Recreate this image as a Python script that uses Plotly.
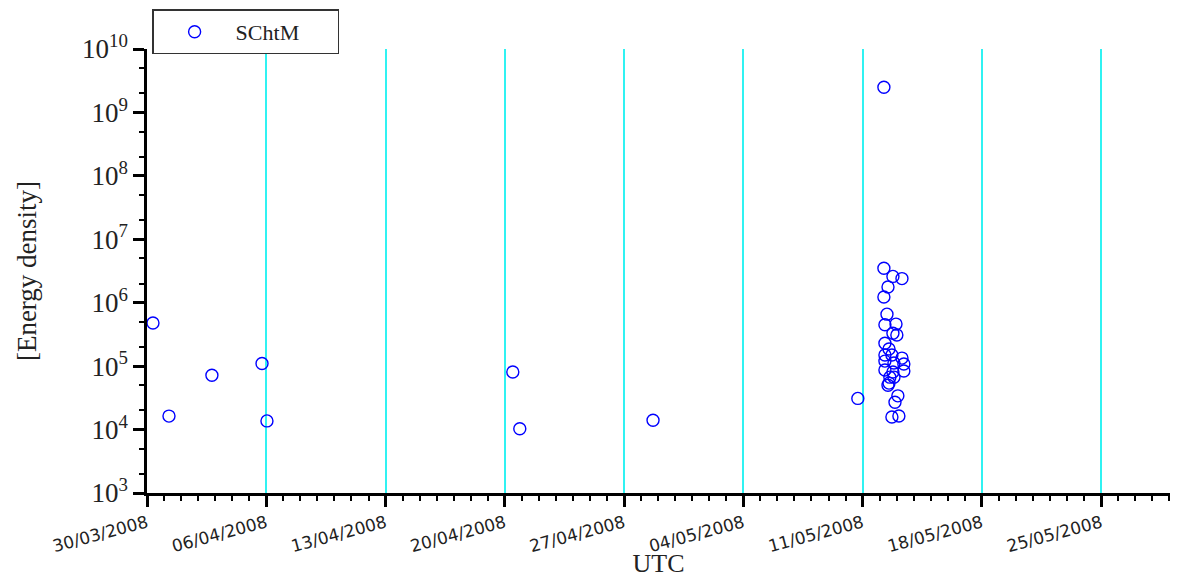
import plotly.graph_objects as go

times = [
    "2008-03-30 08:24", "2008-03-31 06:58", "2008-04-02 19:26", "2008-04-05 18:00",
    "2008-04-06 00:58", "2008-04-20 11:16", "2008-04-20 21:07", "2008-04-28 16:48",
    "2008-05-10 17:17", "2008-05-12 06:00",
    "2008-05-12 06:00", "2008-05-12 18:43", "2008-05-13 07:26", "2008-05-12 11:46",
    "2008-05-12 06:00", "2008-05-12 10:19", "2008-05-12 07:26", "2008-05-12 23:02",
    "2008-05-12 18:43", "2008-05-13 00:14", "2008-05-12 07:26", "2008-05-12 13:12",
    "2008-05-12 07:26", "2008-05-12 17:17", "2008-05-13 07:26", "2008-05-12 07:26",
    "2008-05-12 20:10", "2008-05-13 10:05", "2008-05-12 07:26", "2008-05-12 18:43",
    "2008-05-13 10:05", "2008-05-12 14:24", "2008-05-12 20:10", "2008-05-12 13:12",
    "2008-05-12 11:46", "2008-05-13 01:41", "2008-05-12 21:36", "2008-05-12 17:17",
    "2008-05-13 03:07",
]
energy = [
    4.8e5, 1.63e4, 7.2e4, 1.1e5,
    1.37e4, 8.1e4, 1.03e4, 1.4e4,
    3.1e4, 2.5e9,
    3.5e6, 2.6e6, 2.4e6, 1.77e6,
    1.23e6, 6.6e5, 4.5e5, 4.6e5,
    3.3e5, 3.1e5, 2.3e5, 1.86e5,
    1.5e5, 1.5e5, 1.34e5, 1.2e5,
    1.12e5, 1.08e5, 8.7e4, 8.1e4,
    8.4e4, 6.7e4, 6.7e4, 5.4e4,
    5.0e4, 3.4e4, 2.7e4, 1.58e4,
    1.64e4,
]
series_name = "SChtM"
y_exponents = [3, 4, 5, 6, 7, 8, 9, 10]
x_range = ["2008-03-30", "2008-05-29 01:00"]

serif = "Liberation Serif, Times New Roman, serif"
sans = "DejaVu Sans, Tahoma, sans-serif"

fig = go.Figure()
fig.add_trace(go.Scatter(
    x=times, y=energy, mode="markers", name=series_name,
    marker=dict(symbol="circle-open", size=12, color="#0000FF",
                line=dict(width=1.4, color="#0000FF")),
))

fig.update_layout(
    width=1180, height=578,
    margin=dict(l=147, r=10, t=49, b=85),
    paper_bgcolor="white", plot_bgcolor="white",
    showlegend=True,
    legend=dict(
        x=0.005, y=1.089, xanchor="left", yanchor="top",
        orientation="h", entrywidth=97,
        bordercolor="#333333", borderwidth=1.5, bgcolor="white",
        font=dict(family=serif, size=22, color="#222222"),
        itemwidth=72, tracegroupgap=0,
    ),
    xaxis=dict(
        type="date", range=x_range, automargin=False,
        tick0="2008-03-30", dtick=7 * 86400000,
        tickformat="%d/%m/%Y", tickangle=-15,
        tickfont=dict(family=sans, size=17, color="#222222"),
        ticks="outside", ticklen=11, tickwidth=2.5, tickcolor="black",
        minor=dict(dtick=86400000, ticks="outside", ticklen=5,
                   tickwidth=2, tickcolor="black", showgrid=False),
        showgrid=True, gridcolor="#30F2F2", gridwidth=2,
        showline=True, linecolor="black", linewidth=2.5,
        zeroline=False,
        title=dict(text="UTC", font=dict(family=serif, size=26, color="#222222"), standoff=5),
    ),
    yaxis=dict(
        type="log", range=[3, 10], automargin=False,
        tickvals=[10 ** e for e in y_exponents],
        ticktext=["10<sup>%d</sup>" % e for e in y_exponents],
        tickfont=dict(family=serif, size=27, color="#222222"),
        ticks="outside", ticklen=11, tickwidth=2.5, tickcolor="black",
        minor=dict(ticks="outside", ticklen=5, tickwidth=1.5, tickcolor="black", showgrid=False),
        showgrid=False,
        showline=True, linecolor="black", linewidth=2.5,
        zeroline=False,
        title=dict(text="[Energy density]", font=dict(family=serif, size=27, color="#222222"), standoff=38),
    ),
)

fig.write_html("out.html")
